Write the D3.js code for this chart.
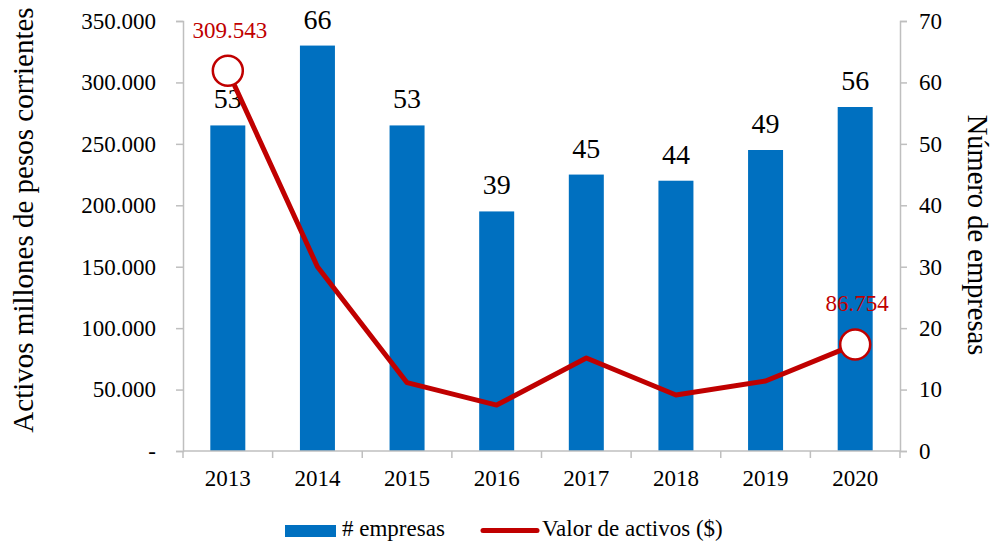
<!DOCTYPE html>
<html><head><meta charset="utf-8">
<script src="https://cdn.jsdelivr.net/npm/d3@7"></script>
<style>body{margin:0;background:#fff}svg{display:block}</style>
</head><body>
<svg id="c" width="995" height="544"></svg>
<script>
const years = ["2013","2014","2015","2016","2017","2018","2019","2020"];
const empresas = [53,66,53,39,45,44,49,56];
const activos = [309543,150000,55600,37400,75700,45600,57000,86754];
const leftTicks = [0,50000,100000,150000,200000,250000,300000,350000];
const rightTicks = [0,10,20,30,40,50,60,70];
const labelledPoints = [0,7];

const svg = d3.select("#c");
const font = "'Liberation Serif','Times New Roman',serif";
const m = {l:183, r:900, t:21, b:451};
const axisColor = "#BFBFBF";

const x = d3.scaleBand().domain(years).range([m.l, m.r]).paddingInner(0).paddingOuter(0);
const yL = d3.scaleLinear().domain([0,350000]).range([m.b, m.t]);
const yR = d3.scaleLinear().domain([0,70]).range([m.b, m.t]);

const fmt = v => v === 0 ? "-" : d3.format(",")(v).replace(/,/g, ".");

// bars
const bw = 35;
svg.append("g").selectAll("rect").data(empresas).join("rect")
  .attr("x", (d,i)=> x(years[i]) + x.bandwidth()/2 - bw/2)
  .attr("y", d=> yR(d))
  .attr("width", bw)
  .attr("height", d=> yR(0) - yR(d))
  .attr("fill", "#0070C0");

// bar labels
svg.append("g").selectAll("text").data(empresas).join("text")
  .attr("x", (d,i)=> x(years[i]) + x.bandwidth()/2)
  .attr("y", d=> yR(d) - 17)
  .attr("text-anchor","middle")
  .attr("font-family", font).attr("font-size", 28).attr("fill","#000")
  .text(d=>d);

// axes
const gl = svg.append("g").attr("transform",`translate(${m.l},0)`)
  .call(d3.axisLeft(yL).tickValues(leftTicks).tickFormat(fmt).tickSize(7).tickPadding(20));
const gr = svg.append("g").attr("transform",`translate(${m.r},0)`)
  .call(d3.axisRight(yR).tickValues(rightTicks).tickSize(7).tickPadding(12));
const gb = svg.append("g").attr("transform",`translate(0,${m.b})`)
  .call(d3.axisBottom(x).tickSize(0).tickPadding(19));
// bottom band boundary ticks
svg.append("g").selectAll("line").data(d3.range(years.length+1)).join("line")
  .attr("x1", i=> m.l + i*x.bandwidth()).attr("x2", i=> m.l + i*x.bandwidth())
  .attr("y1", m.b).attr("y2", m.b+7).attr("stroke", axisColor).attr("stroke-width",1.5);

[gl,gr,gb].forEach(g=>{
  g.select(".domain").attr("stroke", axisColor).attr("stroke-width",1.5);
  g.selectAll(".tick line").attr("stroke", axisColor).attr("stroke-width",1.5);
  g.selectAll(".tick text").attr("font-family", font).attr("font-size", 23).attr("fill","#000");
});
gb.select(".domain").attr("d", `M${m.l},0H${m.r}`);

// line
const line = d3.line().x((d,i)=> x(years[i]) + x.bandwidth()/2).y(d=> yL(d));
svg.append("path").datum(activos).attr("d", line)
  .attr("fill","none").attr("stroke","#C00000").attr("stroke-width",5).attr("stroke-linejoin","round");

// markers + labels
svg.append("g").selectAll("circle").data(labelledPoints).join("circle")
  .attr("cx", i=> x(years[i]) + x.bandwidth()/2)
  .attr("cy", i=> yL(activos[i]))
  .attr("r", 15).attr("fill","#fff").attr("stroke","#C00000").attr("stroke-width",2.5);
svg.append("g").selectAll("text").data(labelledPoints).join("text")
  .attr("x", i=> x(years[i]) + x.bandwidth()/2 + 2)
  .attr("y", i=> yL(activos[i]) - 33)
  .attr("text-anchor","middle")
  .attr("font-family", font).attr("font-size", 23).attr("fill","#C00000")
  .text(i=> fmt(activos[i]));

// axis titles
svg.append("text").attr("transform","translate(33,220) rotate(-90)")
  .attr("text-anchor","middle").attr("font-family",font).attr("font-size",29).attr("fill","#000")
  .text("Activos millones de pesos corrientes");
svg.append("text").attr("transform","translate(968,235) rotate(90)")
  .attr("text-anchor","middle").attr("font-family",font).attr("font-size",28.5).attr("fill","#000")
  .text("Número de empresas");

// legend
const lg = svg.append("g");
lg.append("rect").attr("x",285).attr("y",525).attr("width",51).attr("height",12).attr("fill","#0070C0");
lg.append("text").attr("x",342).attr("y",536).attr("font-family",font).attr("font-size",23).text("# empresas");
lg.append("line").attr("x1",483).attr("x2",537).attr("y1",530.5).attr("y2",530.5)
  .attr("stroke","#C00000").attr("stroke-width",5).attr("stroke-linecap","round");
lg.append("text").attr("x",542).attr("y",536).attr("font-family",font).attr("font-size",23).text("Valor de activos ($)");
</script>
</body></html>
